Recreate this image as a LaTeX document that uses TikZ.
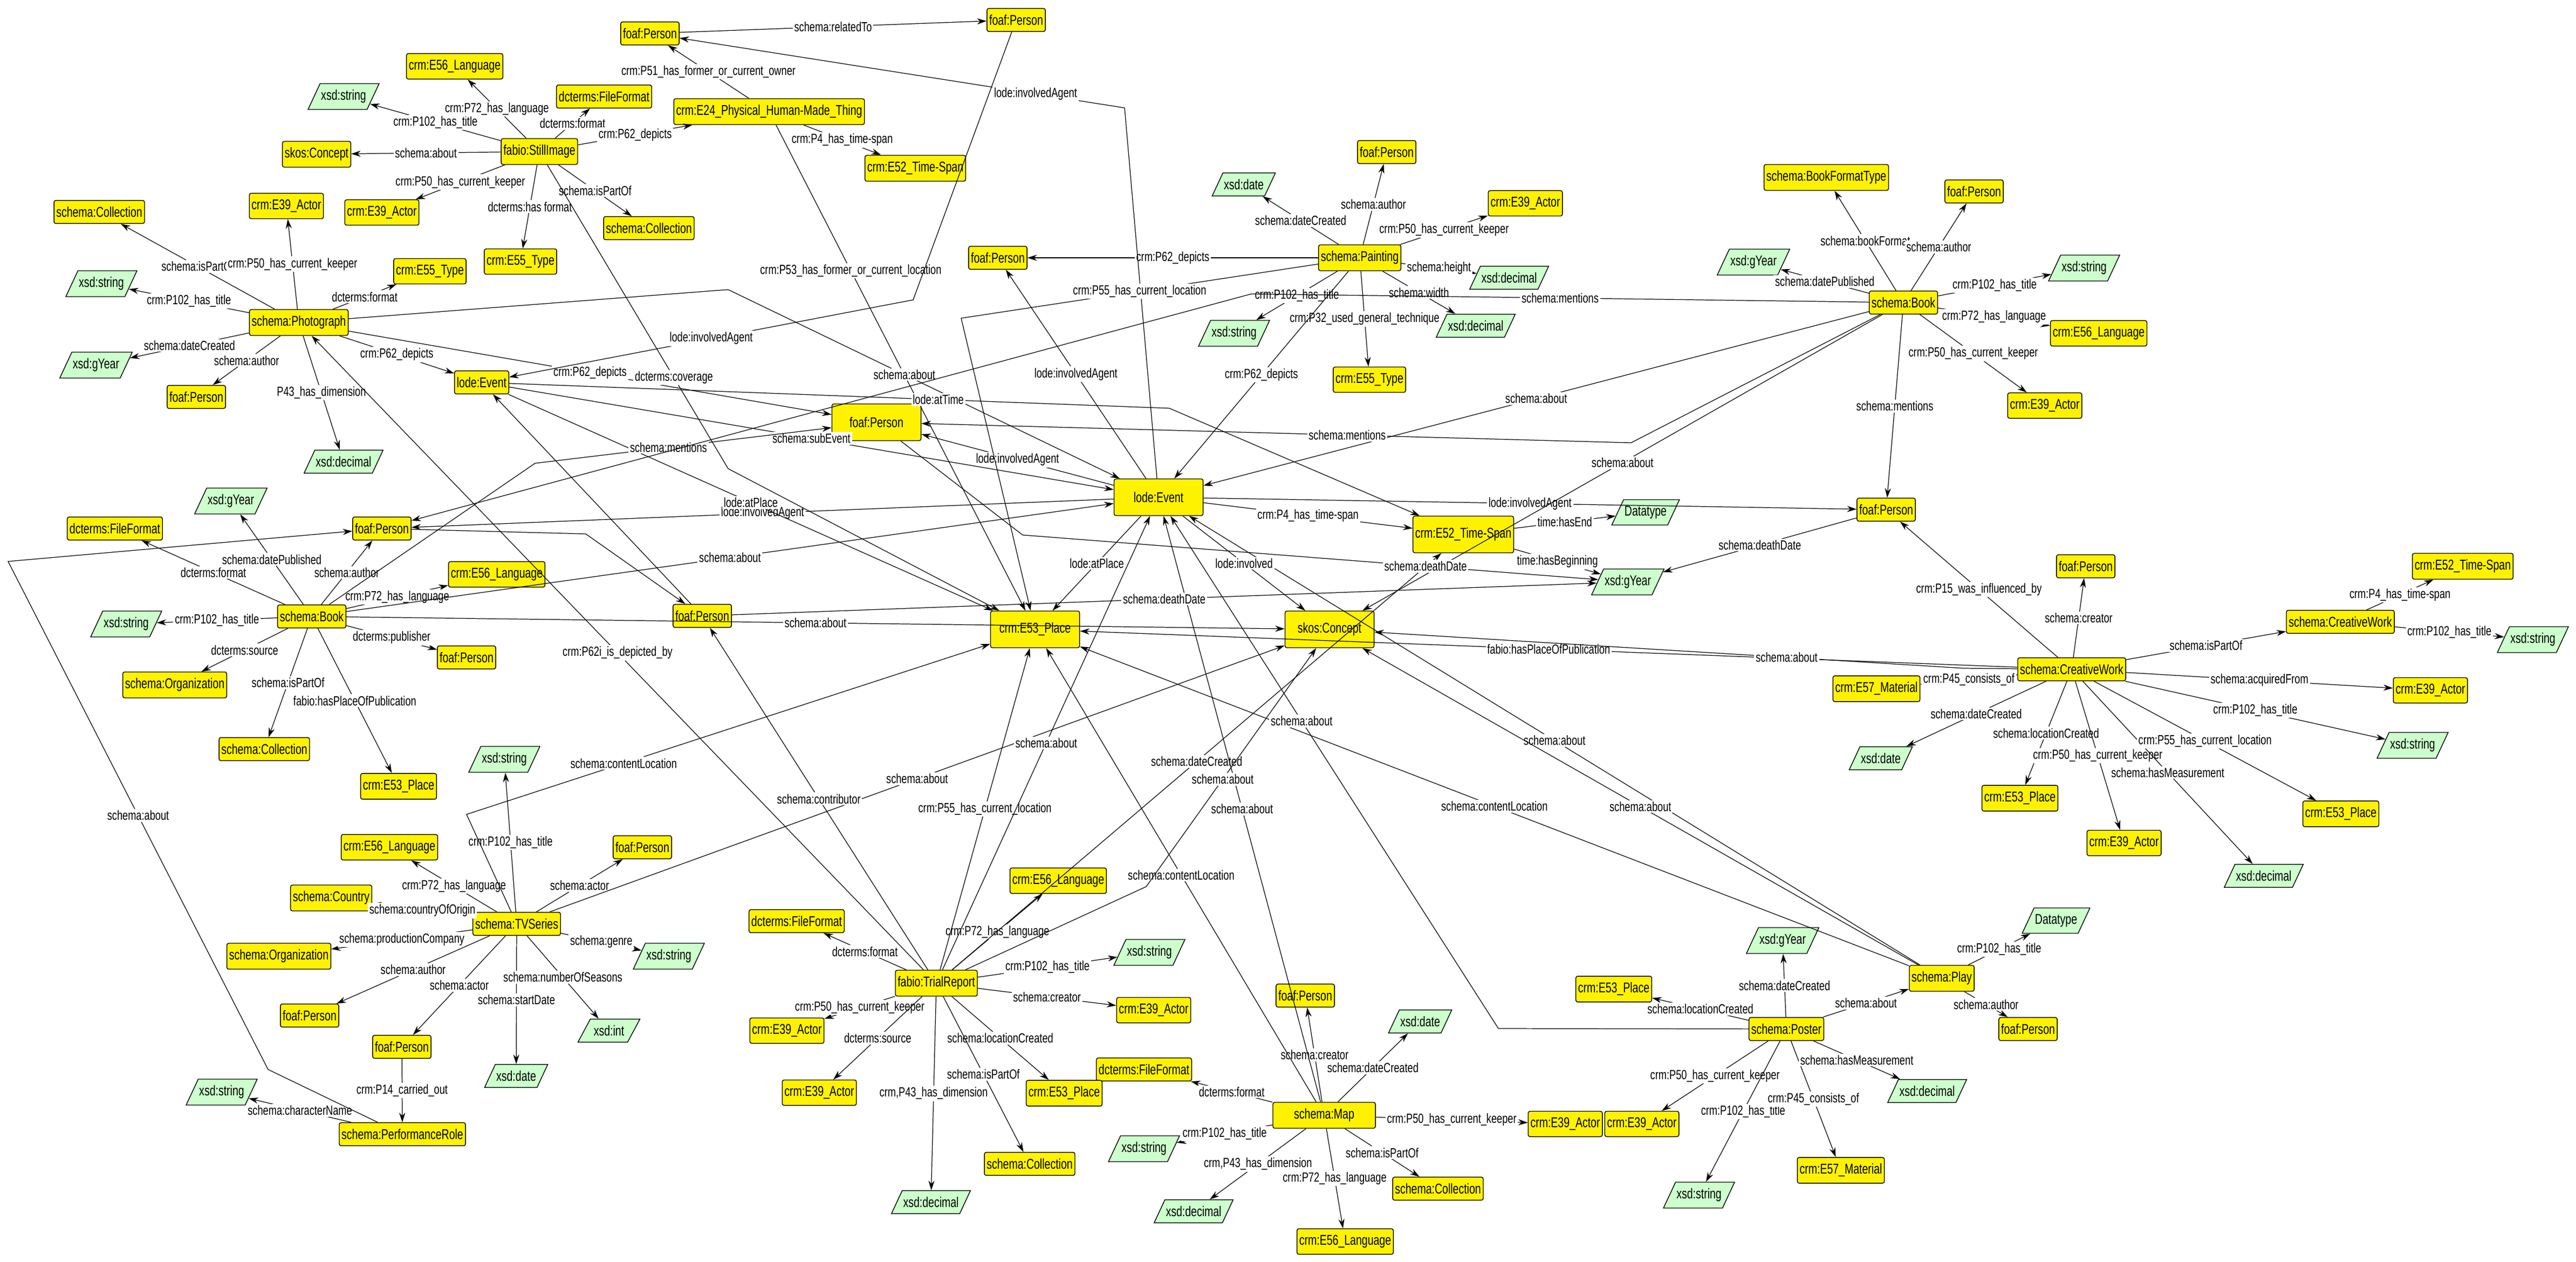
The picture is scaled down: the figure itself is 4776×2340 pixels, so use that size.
\documentclass[tikz,border=0pt]{standalone}
\usepackage{fontspec}
\setmainfont{Liberation Sans}[FakeStretch=0.74]
\usetikzlibrary{shapes.geometric,arrows.meta}
\tikzset{
  cls/.style={draw,fill=yellow,rounded corners=1pt,minimum height=0.42cm,inner xsep=1.2pt,font=\fontsize{7.5}{8}\selectfont},
  big/.style={cls,minimum width=1.65cm,minimum height=0.68cm},
  lit/.style={draw,fill=green!20,trapezium,trapezium left angle=65,trapezium right angle=115,trapezium stretches=true,minimum height=0.42cm,minimum width=1.15cm,inner xsep=0.5pt,font=\fontsize{7.5}{8}\selectfont},
  rel/.style={-{Stealth[length=5pt,width=3.2pt]},line width=0.35pt},
  lbl/.style={fill=white,inner sep=0.8pt,font=\fontsize{7}{8}\selectfont}
}
\catcode`\_=12
\begin{document}
\begin{tikzpicture}[x=0.01cm,y=-0.01cm]
\useasboundingbox (0,0) rectangle (4776,2340);
% classes
\node[cls] (p1) at (1205,62) {foaf:Person};
\node[cls] (lang1) at (843,123) {crm:E56_Language};
\node[lit] (str1) at (637,179) {xsd:string};
\node[cls] (ff1) at (1120,179) {dcterms:FileFormat};
\node[cls] (still) at (1000,281) {fabio:StillImage};
\node[cls] (e24) at (1426,207) {crm:E24_Physical_Human-Made_Thing};
\node[cls] (sk1) at (587,286) {skos:Concept};
\node[cls] (col1) at (184,393) {schema:Collection};
\node[cls] (act1) at (531,382) {crm:E39_Actor};
\node[cls] (act2) at (708,394) {crm:E39_Actor};
\node[cls] (col2) at (1203,423) {schema:Collection};
\node[cls] (typ1) at (965,485) {crm:E55_Type};
\node[cls] (typ2) at (797,503) {crm:E55_Type};
\node[lit] (str2) at (188,526) {xsd:string};
\node[cls] (photo) at (554,598) {schema:Photograph};
\node[lit] (gy1) at (178,677) {xsd:gYear};
\node[cls] (p2) at (364,736) {foaf:Person};
\node[cls] (ev1) at (893,709) {lode:Event};
\node[lit] (dec1) at (637,856) {xsd:decimal};
\node[lit] (gy2) at (428,929) {xsd:gYear};
\node[cls] (ff2) at (213,980) {dcterms:FileFormat};
\node[cls] (p3) at (708,980) {foaf:Person};
\node[cls] (lang2) at (921,1065) {crm:E56_Language};
\node[cls] (book1) at (578,1143) {schema:Book};
\node[lit] (str3) at (234,1157) {xsd:string};
\node[cls] (p4) at (1302,1142) {foaf:Person};
\node[big] (p5) at (1625,783) {foaf:Person};
\node[cls] (p6) at (1884,37) {foaf:Person};
\node[cls] (ts1) at (1697,312) {crm:E52_Time-Span};
\node[cls] (p7) at (2571,282) {foaf:Person};
\node[lit] (dt1) at (2306,342) {xsd:date};
\node[cls] (act3) at (2828,377) {crm:E39_Actor};
\node[cls] (p8) at (1850,478) {foaf:Person};
\node[cls] (paint) at (2521,478) {schema:Painting};
\node[lit] (dec2) at (2798,515) {xsd:decimal};
\node[lit] (str4) at (2288,618) {xsd:string};
\node[lit] (dec3) at (2736,604) {xsd:decimal};
\node[cls] (typ3) at (2539,704) {crm:E55_Type};
\node[big] (ev2) at (2148,922) {lode:Event};
\node[big] (ts2) at (2713,991) {crm:E52_Time-Span};
\node[lit] (dtp1) at (3051,950) {Datatype};
\node[lit] (gy3) at (3018,1079) {xsd:gYear};
\node[big] (pl1) at (1919,1167) {crm:E53_Place};
\node[big] (sk2) at (2465,1167) {skos:Concept};
\node[cls] (lang4) at (1962,1633) {crm:E56_Language};
\node[lit] (str8) at (2131,1766) {xsd:string};
\node[cls] (trial) at (1736,1823) {fabio:TrialReport};
\node[cls] (act7) at (2139,1873) {crm:E39_Actor};
\node[cls] (p13) at (2420,1846) {foaf:Person};
\node[lit] (dt3) at (2633,1894) {xsd:date};
\node[cls] (ff3) at (2121,1983) {dcterms:FileFormat};
\node[cls] (pl4) at (1973,2027) {crm:E53_Place};
\node[cls,minimum width=1.9cm] (map) at (2455,2068) {schema:Map};
\node[cls] (act8) at (2902,2084) {crm:E39_Actor};
\node[cls] (act9) at (3044,2084) {crm:E39_Actor};
\node[cls] (pl5) at (2992,1834) {crm:E53_Place};
\node[lit] (str9) at (2121,2130) {xsd:string};
\node[cls] (col3) at (1909,2158) {schema:Collection};
\node[cls] (col4) at (2666,2204) {schema:Collection};
\node[lit] (dec6) at (1726,2229) {xsd:decimal};
\node[lit] (dec7) at (2213,2246) {xsd:decimal};
\node[cls] (lang5) at (2494,2302) {crm:E56_Language};
\node[lit] (str10) at (3150,2216) {xsd:string};
\node[cls] (org1) at (324,1270) {schema:Organization};
\node[cls] (col5) at (490,1389) {schema:Collection};
\node[cls] (pl6) at (739,1458) {crm:E53_Place};
\node[cls] (p14) at (865,1219) {foaf:Person};
\node[lit] (str11) at (935,1408) {xsd:string};
\node[cls] (lang6) at (722,1571) {crm:E56_Language};
\node[cls] (p15) at (1191,1571) {foaf:Person};
\node[cls] (country) at (614,1665) {schema:Country};
\node[cls] (tv) at (958,1713) {schema:TVSeries};
\node[cls] (org2) at (517,1773) {schema:Organization};
\node[lit] (str12) at (1240,1773) {xsd:string};
\node[cls] (p16) at (574,1883) {foaf:Person};
\node[cls] (p17) at (745,1941) {foaf:Person};
\node[lit] (int) at (1129,1911) {xsd:int};
\node[lit] (date4) at (957,1995) {xsd:date};
\node[lit] (str13) at (411,2025) {xsd:string};
\node[cls] (role) at (746,2103) {schema:PerformanceRole};
\node[cls] (ff4) at (1477,1708) {dcterms:FileFormat};
\node[cls] (act10) at (1459,1911) {crm:E39_Actor};
\node[cls] (act11) at (1519,2026) {crm:E39_Actor};
\node[cls] (cw) at (3841,1241) {schema:CreativeWork};
\node[cls] (mat1) at (3479,1277) {crm:E57_Material};
\node[cls] (act5) at (4506,1280) {crm:E39_Actor};
\node[lit] (dt2) at (3487,1406) {xsd:date};
\node[lit] (str7) at (4473,1382) {xsd:string};
\node[cls] (pl2) at (3745,1480) {crm:E53_Place};
\node[cls] (pl3) at (4340,1509) {crm:E53_Place};
\node[cls] (act6) at (3938,1563) {crm:E39_Actor};
\node[lit] (dec4) at (4197,1624) {xsd:decimal};
\node[lit] (dtp2) at (3812,1707) {Datatype};
\node[lit] (gy5) at (3305,1744) {xsd:gYear};
\node[cls] (play) at (3600,1814) {schema:Play};
\node[cls] (poster) at (3312,1908) {schema:Poster};
\node[cls] (p12) at (3760,1908) {foaf:Person};
\node[lit] (dec5) at (3573,2023) {xsd:decimal};
\node[cls] (mat2) at (3413,2170) {crm:E57_Material};
\node[lit] (str6) at (4696,1186) {xsd:string};
\node[cls] (bft) at (3386,329) {schema:BookFormatType};
\node[cls] (p9) at (3660,355) {foaf:Person};
\node[lit] (gy4) at (3251,486) {xsd:gYear};
\node[lit] (str5) at (3864,497) {xsd:string};
\node[cls] (book2) at (3529,561) {schema:Book};
\node[cls] (lang3) at (3891,618) {crm:E56_Language};
\node[cls] (act4) at (3791,752) {crm:E39_Actor};
\node[cls] (p10) at (3497,945) {foaf:Person};
\node[cls] (p11) at (3867,1050) {foaf:Person};
\node[cls] (ts3) at (4566,1050) {crm:E52_Time-Span};
\node[cls] (cw2) at (4339,1153) {schema:CreativeWork};
% straight relations
\foreach \s/\t/\l in {still/str1/crm:P102_has_title,still/lang1/crm:P72_has_language,still/ff1/dcterms:format,still/e24/crm:P62_depicts,still/sk1/schema:about,still/act2/crm:P50_has_current_keeper,still/typ1/dcterms:has format,still/col2/schema:isPartOf,
  e24/p1/crm:P51_has_former_or_current_owner,e24/ts1/crm:P4_has_time-span,p1/p6/schema:relatedTo,
  photo/col1/schema:isPartOf,photo/act1/crm:P50_has_current_keeper,photo/str2/crm:P102_has_title,photo/typ2/dcterms:format,photo/gy1/schema:dateCreated,photo/p2/schema:author,photo/ev1/crm:P62_depicts,photo/dec1/P43_has_dimension,photo/p5/crm:P62_depicts,
  book1/gy2/schema:datePublished,book1/ff2/dcterms:format,book1/p3/schema:author,book1/lang2/crm:P72_has_language,book1/str3/crm:P102_has_title,book1/org1/dcterms:source,book1/col5/schema:isPartOf,book1/pl6/fabio:hasPlaceOfPublication,book1/p14/dcterms:publisher,book1/ev2/schema:about,book1/sk2/schema:about,
  p17/role/crm:P14_carried_out,role/str13/schema:characterName,
  tv/str11/crm:P102_has_title,tv/lang6/crm:P72_has_language,tv/country/schema:countryOfOrigin,tv/org2/schema:productionCompany,tv/p16/schema:author,tv/p17/schema:actor,tv/date4/schema:startDate,tv/int/schema:numberOfSeasons,tv/str12/schema:genre,tv/p15/schema:actor,tv/sk2/schema:about,
  trial/lang4/crm:P72_has_language,trial/str8/crm:P102_has_title,trial/act7/schema:creator,trial/pl4/schema:locationCreated,trial/col3/schema:isPartOf,trial/dec6/{crm,P43_has_dimension},trial/act10/crm:P50_has_current_keeper,trial/act11/dcterms:source,trial/ff4/dcterms:format,trial/pl1/crm:P55_has_current_location,trial/p4/schema:contributor,trial/photo/crm:P62i_is_depicted_by,trial/ev2/schema:about,trial/ts2/schema:dateCreated,
  map/p13/schema:creator,map/dt3/schema:dateCreated,map/ff3/dcterms:format,map/act8/crm:P50_has_current_keeper,map/str9/crm:P102_has_title,map/dec7/{crm,P43_has_dimension},map/lang5/crm:P72_has_language,map/col4/schema:isPartOf,map/pl1/schema:contentLocation,map/ev2/schema:about,
  poster/gy5/schema:dateCreated,poster/play/schema:about,poster/pl5/schema:locationCreated,poster/act9/crm:P50_has_current_keeper,poster/str10/crm:P102_has_title,poster/mat2/crm:P45_consists_of,poster/dec5/schema:hasMeasurement,
  play/dtp2/crm:P102_has_title,play/p12/schema:author,play/ev2/schema:about,play/sk2/schema:about,play/pl1/schema:contentLocation,
  cw/mat1/crm:P45_consists_of,cw/dt2/schema:dateCreated,cw/pl2/schema:locationCreated,cw/act6/crm:P50_has_current_keeper,cw/dec4/schema:hasMeasurement,cw/pl3/crm:P55_has_current_location,cw/str7/crm:P102_has_title,cw/act5/schema:acquiredFrom,cw/cw2/schema:isPartOf,cw/p11/schema:creator,cw/p10/crm:P15_was_influenced_by,cw/pl1/fabio:hasPlaceOfPublication,
  cw2/ts3/crm:P4_has_time-span,cw2/str6/crm:P102_has_title,
  paint/p8/crm:P62_depicts,paint/dt1/schema:dateCreated,paint/p7/schema:author,paint/act3/crm:P50_has_current_keeper,paint/dec2/schema:height,paint/dec3/schema:width,paint/str4/crm:P102_has_title,paint/typ3/crm:P32_used_general_technique,paint/ev2/crm:P62_depicts,
  ev2/p8/lode:involvedAgent,ev2/ts2/crm:P4_has_time-span,ev2/p10/lode:involvedAgent,ev2/sk2/lode:involved,ev2/pl1/lode:atPlace,ev2/p5/lode:involvedAgent,ev2/p3/lode:involvedAgent,
  ev1/pl1/lode:atPlace,ev1/ev2/schema:subEvent,p10/gy3/schema:deathDate,p4/gy3/schema:deathDate,
  ts2/dtp1/time:hasEnd,ts2/gy3/time:hasBeginning,
  book2/bft/schema:bookFormat,book2/p9/schema:author,book2/gy4/schema:datePublished,book2/str5/crm:P102_has_title,book2/lang3/crm:P72_has_language,book2/act4/crm:P50_has_current_keeper,book2/p10/schema:mentions,book2/ev2/schema:about,book2/sk2/schema:about}
  {\draw[rel] (\s) -- node[lbl]{\l} (\t);}
% bent relations
\draw[rel] (e24) -- node[lbl,pos=0.3]{crm:P53_has_former_or_current_location} (pl1);
\draw[rel] (still) -- node[lbl,pos=0.7]{dcterms:coverage} (1350,869) -- (pl1);
\draw[rel] (photo) -- (1350,537) -- node[lbl,pos=0.45]{schema:about} (ev2);
\draw[rel] (p6) -- (1693,556) -- node[lbl,pos=0.5]{lode:involvedAgent} (ev1);
\draw[rel] (ev2) -- (2085,200) -- node[lbl,pos=0.2]{lode:involvedAgent} (p1);
\draw[rel] (book1) -- (992,859) -- node[lbl,pos=0.45]{schema:mentions} (p5);
\draw[rel] (role) -- (497,1983) -- node[lbl]{schema:about} (15,1041) -- (p3);
\draw[rel] (tv) -- (865,1510) -- node[lbl,pos=0.3]{schema:contentLocation} (pl1);
\draw[rel] (trial) -- (2125,1644) -- node[lbl,pos=0.45]{schema:about} (sk2);
\draw[rel] (poster) -- (2778,1907) -- node[lbl,pos=0.6]{schema:about} (ev2);
\draw[rel] (cw) -- (3640,1239) -- node[lbl,pos=0.3]{schema:about} (sk2);
\draw[rel] (paint) -- node[lbl,pos=0.5]{crm:P55_has_current_location} (1782,590) -- (pl1);
\draw[rel] (ev1) -- node[lbl,pos=0.65]{lode:atTime} (2168,757) -- (ts2);
\draw[rel] (p4) -- (ev1);
\draw[rel] (p3) -- (1086,990) -- (p4);
\draw[rel] (p5) -- (1896,992) -- node[lbl,pos=0.7]{schema:deathDate} (gy3);
\draw[rel] (book2) -- (3024,821) -- node[lbl,pos=0.4]{schema:mentions} (p5);
\draw[rel] (book2) -- node[lbl,pos=0.5]{schema:mentions} (2320,545) -- (p3);
\end{tikzpicture}
\end{document}
